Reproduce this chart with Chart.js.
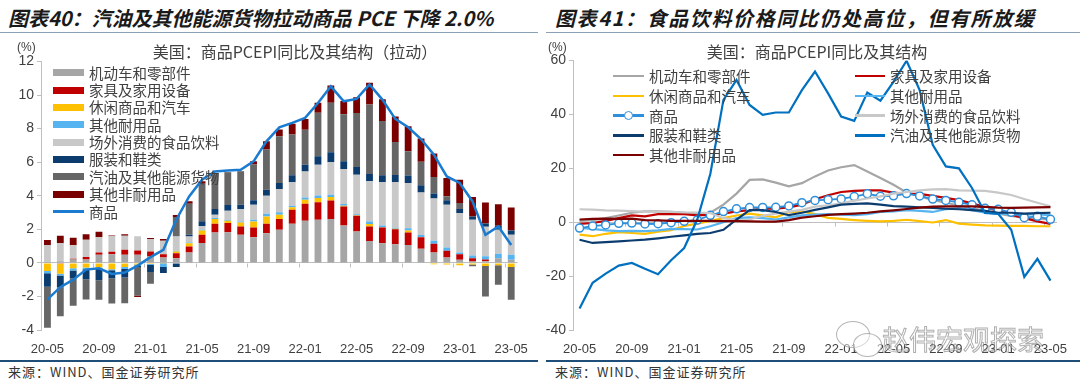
<!DOCTYPE html>
<html>
<head>
<meta charset="utf-8">
<script src="https://cdn.jsdelivr.net/npm/chart.js@4.4.0/dist/chart.umd.min.js"></script>
<style>
  body { margin: 0; width: 1080px; height: 388px; background: #fff; position: relative; overflow: hidden;
         font-family: 'Liberation Sans', 'Noto Sans CJK SC', sans-serif; color: #404040; }
  .abs { position: absolute; white-space: nowrap; }
  .title { font-family: 'Noto Sans CJK SC', sans-serif; font-weight: bold; font-style: italic; font-size: 20px;
           line-height: 24px; color: #1a1a1a; top: 6px; }
  .sub { font-family: 'Noto Sans CJK SC', sans-serif; font-size: 16px; line-height: 20px; top: 41px; transform: translateX(-50%); color: #404040; }
  .unit { font-size: 12px; line-height: 14px; top: 40px; color: #404040; }
  .src { font-family: 'Noto Sans CJK SC', sans-serif; font-size: 13px; line-height: 16px; top: 364px; color: #333; letter-spacing: 1px; }
  .rule { height: 1px; background: #8aa0b4; top: 32px; }
  .rule2 { height: 2px; background: #1f4e79; top: 360px; }
  .leg { font-family: 'Noto Sans CJK SC', sans-serif; font-size: 14.5px; line-height: 18px; color: #404040; }
  .box { position: absolute; }
  .wm { font-family: 'Noto Sans CJK SC', sans-serif; font-size: 27px; line-height: 32px; color: rgba(255,255,255,0.4);
        -webkit-text-stroke: 1px rgba(110,110,110,0.55); left: 882px; top: 323px; }
  .bub { position: absolute; border: 1.5px solid rgba(130,130,130,0.6); border-radius: 50%; background: rgba(255,255,255,0.5); }
</style>
</head>
<body>
<div class="abs title" style="left:8px;">图表40：汽油及其他能源货物拉动商品 PCE 下降 2.0%</div>
<div class="abs title" style="left:555px;letter-spacing:1.6px;">图表41：食品饮料价格同比仍处高位，但有所放缓</div>
<div class="abs rule" style="left:0;width:538px;"></div>
<div class="abs rule" style="left:546px;width:534px;"></div>

<div class="abs" style="left:0;top:40px;width:540px;height:322px;"><canvas id="left"></canvas></div>
<div class="abs" style="left:540px;top:40px;width:540px;height:322px;"><canvas id="right"></canvas></div>

<div class="abs unit" style="left:17px;">(%)</div>
<div class="abs unit" style="left:548px;">(%)</div>
<div class="abs sub" style="left:295px;">美国：商品PCEPI同比及其结构（拉动）</div>
<div class="abs sub" style="left:817px;">美国：商品PCEPI同比及其结构</div>

<div id="legL"></div>
<div id="legR"></div>

<div class="bub" style="left:836px;top:321px;width:32px;height:25px;"></div>
<div class="bub" style="left:853px;top:333px;width:27px;height:22px;"></div>
<div class="abs wm">赵伟宏观探索</div>

<div class="abs rule2" style="left:0;width:538px;"></div>
<div class="abs rule2" style="left:546px;width:534px;"></div>
<div class="abs src" style="left:8px;">来源：WIND、国金证券研究所</div>
<div class="abs src" style="left:555px;">来源：WIND、国金证券研究所</div>

<script>
// 月份
const months = ['20-05','20-06','20-07','20-08','20-09','20-10','20-11','20-12',
  '21-01','21-02','21-03','21-04','21-05','21-06','21-07','21-08','21-09','21-10','21-11','21-12',
  '22-01','22-02','22-03','22-04','22-05','22-06','22-07','22-08','22-09','22-10','22-11','22-12',
  '23-01','23-02','23-03','23-04','23-05'];

const names = ['机动车和零部件','家具及家用设备','休闲商品和汽车','其他耐用品','场外消费的食品饮料','服装和鞋类','汽油及其他能源货物','其他非耐用品'];

// 左图：拉动（百分点）
const vehC = [0.05,0.1,0.2,0.2,0.48,0.52,0.48,0.48,0.38,0.32,0.28,0.62,1.18,1.81,1.83,1.67,1.53,1.77,1.97,2.33,2.51,2.57,2.61,2.23,1.87,1.31,1.17,1.11,1.07,0.84,0.62,0.32,0.18,0.08,0.1,0.28,0.18];
const furnC = [0,-0.05,0.05,0.15,0.14,0.14,0.3,0.26,0.3,0.2,0.3,0.35,0.5,0.52,0.54,0.5,0.58,0.56,0.64,0.84,1.01,1.05,1.11,1.13,0.94,0.86,0.94,0.9,0.74,0.68,0.52,0.4,0.34,0.2,0.1,0,-0.03];
const recC = [-0.48,-0.6,-0.32,-0.28,-0.28,-0.38,-0.25,-0.1,-0.07,-0.02,0.1,0.2,0.25,0.28,0.14,0.24,0.36,0.44,0.26,0.14,0.24,0.24,0.2,0.05,0.03,0.14,0.02,0.02,0.12,0.02,-0.08,-0.1,-0.14,-0.1,-0.18,-0.14,-0.22];
const othDurC = [-0.14,-0.1,-0.14,-0.1,-0.06,-0.06,-0.12,-0.05,-0.05,-0.22,0.03,0.05,0.05,0.06,0.06,0.06,0.1,0.16,0.14,0.1,0.14,0.16,0.14,0.1,0.06,0.16,0.1,0.06,0.14,0.12,0.18,0.2,0.1,0.16,0.2,0.26,0.3];
const foodC = [1.02,1.07,0.8,1.03,0.9,0.92,0.84,0.84,0.74,0.8,0.86,0.35,0.2,0.2,0.54,0.74,0.9,1.07,1.39,1.39,1.55,1.83,1.93,2.09,2.35,2.39,2.59,2.73,2.69,2.53,2.51,2.55,2.35,2.13,1.75,1.43,1.19];
const appC = [-0.8,-0.7,-0.46,-0.6,-0.7,-0.48,-0.5,-0.1,-0.42,-0.36,-0.25,0.1,0.3,0.34,0.34,0.26,0.26,0.36,0.36,0.42,0.4,0.5,0.6,0.46,0.46,0.44,0.4,0.42,0.44,0.44,0.3,0.26,0.24,0.2,0.2,0.24,0.26];
const gasC = [-2.45,-1.73,-1.63,-1.2,-1.16,-1.5,-1.53,-1.7,-0.7,0,1.17,1.85,2.23,2.05,1.95,1.99,2.13,2.39,2.79,2.43,2.09,2.59,2.95,2.79,3.22,4.14,3.24,1.97,1.45,1.39,0.98,0.24,0.36,-0.1,-1.83,-1.17,-1.95];
const othNdC = [0.3,0.44,0.44,0.32,0.34,0.05,0.08,-0.08,0.06,0.1,0.12,0.15,0.15,0.1,0.02,0.02,0.2,0.5,0.4,0.64,0.64,0.6,1.03,0.8,0.94,1.29,1.29,1.51,1.49,1.39,1.41,1.09,1.39,1.15,1.25,1.29,1.37];
// 商品 PCEPI 同比
const goods = [-2.17,-1.45,-1.0,-0.4,-0.32,-0.66,-0.58,-0.16,0.34,0.78,2.57,3.96,4.96,5.45,5.5,5.55,6.05,7.24,8.08,8.34,8.64,9.53,10.52,9.63,9.77,10.63,9.73,8.58,8.08,7.38,6.45,5.15,4.76,3.66,1.67,2.17,1.07];

// 右图：同比（%）
const vehY = [0.5,0.8,1.5,2.5,3.5,4.0,4.0,3.8,3.5,3.0,3.5,6.5,10.6,15.7,15.9,14.7,13.3,14.5,17.0,19.2,20.4,21.2,18.8,16.4,13.9,11.0,9.6,8.3,7.2,6.2,5.2,4.2,3.2,2.3,1.6,1.2,1.0];
const furnY = [-0.6,-0.3,0.5,1.5,2.5,2.2,3.0,3.0,3.0,2.5,2.8,3.2,4.0,4.5,5.0,5.0,5.5,6.5,8.5,10.0,11.2,11.6,11.8,11.8,11.0,10.5,10.5,9.8,9.0,8.2,7.0,5.6,4.2,2.8,1.5,0.3,-0.6];
const recY = [-4.6,-5.2,-4.3,-3.7,-4.0,-4.3,-3.5,-3.0,-1.4,-0.5,0.5,1.5,2.5,3.2,2.5,1.8,3.7,4.0,3.0,1.6,1.2,0.8,0.5,0.3,0.5,0.9,0.4,-0.1,0.8,-0.5,-0.9,-1.2,-1.3,-1.4,-1.4,-1.5,-1.5];
const othDurY = [-2.1,-2.5,-3.0,-3.3,-3.2,-3.3,-3.0,-2.5,-2.6,-2.7,-1.5,0,1.5,1.8,1.5,1.0,1.8,2.5,2.8,3.0,2.8,2.6,3.0,3.8,4.0,4.5,4.2,3.8,4.8,5.2,4.5,3.5,3.2,3.0,2.8,3.0,2.5];
const foodY = [4.8,4.7,4.4,4.3,4.1,3.9,3.8,3.8,3.6,3.6,3.4,1.5,0.8,1.0,2.4,3.2,3.9,4.6,5.8,6.3,7.0,8.0,8.8,9.6,10.6,11.2,11.8,12.2,12.3,11.8,11.7,11.6,11.0,10.1,8.6,7.2,5.9];
const appY = [-6.5,-7.7,-7.4,-7.1,-6.8,-6.5,-6.0,-5.4,-4.9,-4.3,-4.0,-2.8,1.0,4.5,4.5,3.8,2.6,3.5,4.6,5.5,6.5,6.8,7.0,6.5,6.0,5.8,5.5,5.3,5.0,4.8,4.5,4.2,3.5,3.5,3.2,3.4,3.5];
const gasY = [-32,-22.5,-19.1,-16.1,-15.1,-17.3,-19.3,-14.1,-9.6,1,18,45.4,52.8,43.5,39.8,40.7,40.7,49,55.9,47.8,39.2,37.6,48.1,45.1,52.1,59.9,49,28.7,20.7,20,12.7,3.4,3.1,-2.8,-20.3,-13.6,-21.7];
const othNdY = [1.0,1.2,1.3,1.2,1.3,0.8,0.7,0.5,0.5,0.5,0.5,0.4,0.4,0.3,0.2,0.2,0.8,1.7,2.2,2.7,3.0,3.2,3.5,4.0,4.4,4.9,5.4,5.8,5.9,5.9,5.9,5.7,5.4,5.3,5.4,5.5,5.6];

const barColors = ['#A6A6A6','#C00000','#FFC000','#56B4F0','#C8C8C8','#0C3C6E','#666666','#7A0000'];
const goodsColorL = '#1A7BD0';
const goodsColorR = '#2F8FDB';

Chart.defaults.font.family = "'Liberation Sans','Noto Sans CJK SC',sans-serif";
Chart.defaults.color = '#404040';
Chart.defaults.animation = false;

// 零轴上每4个月一个刻度
const zeroTicks = {
  id: 'zeroTicks',
  beforeDatasetsDraw(chart) {
    const xs = chart.scales.x, ys = chart.scales.y, c = chart.ctx;
    const y0 = Math.round(ys.getPixelForValue(0)) + 0.5;
    const step = xs.getPixelForValue(1) - xs.getPixelForValue(0);
    c.save();
    c.strokeStyle = '#BFBFBF';
    c.lineWidth = 1;
    c.beginPath();
    for (let i = 0; i < months.length; i += 4) {
      const px = Math.round(xs.getPixelForValue(i) - step / 2) + 0.5;
      c.moveTo(px, y0);
      c.lineTo(px, y0 + 4);
    }
    c.stroke();
    c.restore();
  }
};

function yAxis(min, max, step, w) {
  return {
    min: min, max: max, stacked: true,
    afterFit: s => { s.width = w; },
    ticks: { stepSize: step, font: { size: 14 }, color: '#404040', padding: 3 },
    grid: {
      drawOnChartArea: true, tickLength: 4, tickColor: '#BFBFBF',
      color: ctx => (ctx.tick && ctx.tick.value === 0) ? '#BFBFBF' : 'rgba(0,0,0,0)'
    },
    border: { display: true, color: '#BFBFBF' }
  };
}

function xAxis() {
  return {
    offset: true, stacked: true,
    afterFit: s => { s.height = 32; },
    grid: { display: false, drawTicks: false },
    border: { display: false },
    ticks: {
      autoSkip: false, maxRotation: 0, font: { size: 13 }, color: '#404040', padding: 12,
      callback: function (v, i) { return i % 4 === 0 ? this.getLabelForValue(v) : ''; }
    }
  };
}

// 左图
const leftSeries = [vehC, furnC, recC, othDurC, foodC, appC, gasC, othNdC];
const leftSets = leftSeries.map((d, k) => ({
  type: 'bar', label: names[k], data: d, backgroundColor: barColors[k],
  stack: 'parts', order: 1, barPercentage: 0.53, categoryPercentage: 1
}));
leftSets.push({
  type: 'line', label: '商品', data: goods, stack: 'total', order: 0,
  borderColor: goodsColorL, borderWidth: 2.5, pointRadius: 0, tension: 0
});

new Chart(document.getElementById('left'), {
  data: { labels: months, datasets: leftSets },
  options: {
    responsive: true, maintainAspectRatio: false, devicePixelRatio: 1,
    layout: { padding: { top: 21.5, right: 12, left: 0, bottom: 0 } },
    plugins: { legend: { display: false }, tooltip: { enabled: false } },
    scales: { x: xAxis(), y: yAxis(-4, 12, 2, 41) }
  },
  plugins: [zeroTicks]
});

// 右图（图例顺序）
const rightSeries = [vehY, furnY, recY, othDurY, goods, foodY, appY, gasY, othNdY];
const rightNames = ['机动车和零部件','家具及家用设备','休闲商品和汽车','其他耐用品','商品','场外消费的食品饮料','服装和鞋类','汽油及其他能源货物','其他非耐用品'];
const rightColors = ['#A6A6A6','#C00000','#FFC000','#56B4F0',goodsColorR,'#C8C8C8','#0C3C6E','#0070C0','#7A0000'];
const rightSets = rightSeries.map((d, k) => ({
  type: 'line', label: rightNames[k], data: d,
  borderColor: rightColors[k], borderWidth: k === 4 ? 1.8 : 2.2,
  pointRadius: k === 4 ? 4 : 0, pointBorderWidth: 1.5,
  pointBorderColor: rightColors[k], pointBackgroundColor: '#ffffff',
  tension: 0, order: 9 - k
}));

const yR = yAxis(-40, 60, 20, 33);
yR.stacked = false;
const xR = xAxis();
xR.stacked = false;

new Chart(document.getElementById('right'), {
  data: { labels: months, datasets: rightSets },
  options: {
    responsive: true, maintainAspectRatio: false, devicePixelRatio: 1,
    layout: { padding: { top: 20.5, right: 23, left: 0, bottom: 0 } },
    plugins: { legend: { display: false }, tooltip: { enabled: false } },
    scales: { x: xR, y: yR }
  },
  plugins: [zeroTicks]
});

// 图例（HTML）
function legItem(parent, x, yc, text, color, kind, w) {
  const el = document.createElement('div');
  el.className = 'box';
  if (kind === 'box') {
    el.style.cssText = `left:${x}px;top:${yc - 3.5}px;width:${w}px;height:7px;background:${color};`;
  } else {
    el.style.cssText = `left:${x}px;top:${yc - 1.25}px;width:${w}px;height:2.5px;background:${color};`;
  }
  parent.appendChild(el);
  if (kind === 'marker') {
    const m = document.createElement('div');
    m.className = 'box';
    m.style.cssText = `left:${x + w / 2 - 5}px;top:${yc - 5}px;width:7px;height:7px;border:1.5px solid ${color};border-radius:50%;background:#fff;`;
    parent.appendChild(m);
  }
  const t = document.createElement('div');
  t.className = 'abs leg';
  t.textContent = text;
  t.style.left = (x + w + 5) + 'px';
  t.style.top = (yc - 9) + 'px';
  parent.appendChild(t);
}

const legL = document.getElementById('legL');
names.forEach((n, k) => legItem(legL, 53, 72.7 + 17.35 * k, n, barColors[k], 'box', 31));
legItem(legL, 53, 72.7 + 17.35 * 8, '商品', goodsColorL, 'line', 31);

const legR = document.getElementById('legR');
rightNames.forEach((n, k) => {
  const col = k % 2, row = Math.floor(k / 2);
  const x = col === 0 ? 613 : 855;
  legItem(legR, x, 76 + 19.8 * row, n, rightColors[k], k === 4 ? 'marker' : 'line', col === 0 ? 31 : 30);
});
</script>
</body>
</html>
